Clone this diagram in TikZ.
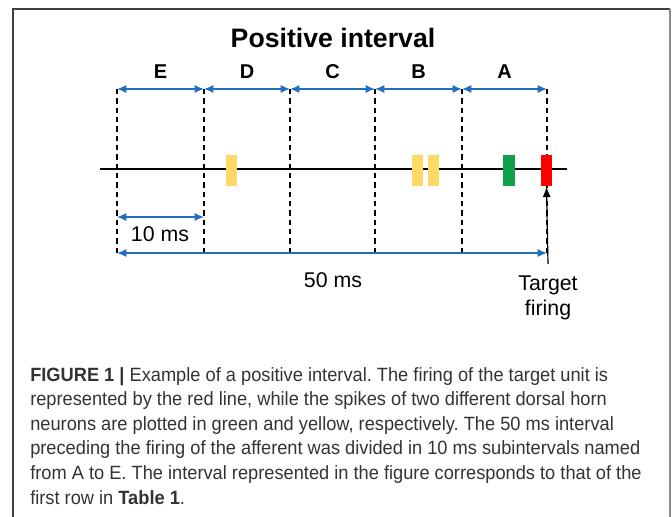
\documentclass[tikz,border=0pt]{standalone}
\usepackage{fontspec}
\setmainfont{Liberation Sans}
\newfontfamily\capfont[FakeStretch=0.95]{Liberation Sans}
\usetikzlibrary{arrows.meta,calc}
\definecolor{spanblue}{HTML}{1F6EC0}
\definecolor{spikeyellow}{HTML}{FFD966}
\definecolor{spikegreen}{HTML}{0FA04A}
\definecolor{spikered}{HTML}{FF0000}
\definecolor{captext}{HTML}{333333}
\frenchspacing
\begin{document}
\begin{tikzpicture}[x=0.75pt,y=-0.75pt,
    span/.style={draw=spanblue,line width=1.1pt,{Latex[length=7pt,width=6pt]}-{Latex[length=7pt,width=6pt]}},
    guide/.style={dashed,line width=0.8pt,dash pattern=on 4pt off 3pt},
    spike/.style={minimum width=8.3pt,minimum height=23.5pt,inner sep=0pt}]
    \useasboundingbox (0,0) rectangle (672,517);
    % frame
    \draw[black!75,line width=1.2pt] (13,517) -- (13,9) -- (670,9);
    \draw[black!45,line width=1.6pt] (670,9) -- (670,517);
    \node (title) at (333,38) {\fontsize{20}{24}\selectfont\bfseries Positive interval};
    % dashed boundaries
    \foreach \x/\n in {117/0,204/1,290/2,375/3,462/4,547/5} {
        \coordinate (t\n) at (\x,89);
        \coordinate (b\n) at (\x,254);
        \draw[guide] (t\n) -- (b\n);
    }
    \foreach \a/\b/\label in {0/1/E,1/2/D,2/3/C,3/4/B,4/5/A} {
        \draw[span] (t\a) -- (t\b);
        \node (sub\label) at ($(t\a)!0.5!(t\b)+(0,-17)$) {\fontsize{15}{18}\selectfont\bfseries\label};
    }
    % time axis
    \coordinate (axL) at (100,169);
    \coordinate (axR) at (567,169);
    \draw[line width=1.4pt] (axL) -- (axR);
    \foreach \x/\c/\n in {231.5/spikeyellow/1,417.5/spikeyellow/2,433.5/spikeyellow/3,509/spikegreen/4,546.5/spikered/5}
        \node[spike,fill=\c] (spike\n) at (\x,170.5) {};
    % target
    \coordinate (tgt) at (548,264);
    \draw[-{Latex[length=8pt,width=6pt]},line width=0.9pt] (tgt) -- (spike5.south);
    \node[align=center,font=\fontsize{16}{20}\selectfont] (target) at (548,298) {Target\\[-1pt]firing};
    % spans
    \coordinate (ten0) at (117,217);
    \coordinate (ten1) at (204,217);
    \draw[span] (ten0) -- (ten1);
    \node (tenms) at (160,234) {\fontsize{16}{20}\selectfont 10 ms};
    \coordinate (fifty0) at (117,253);
    \coordinate (fifty1) at (547,253);
    \draw[span] (fifty0) -- (fifty1);
    \node (fiftyms) at (333,280) {\fontsize{16}{20}\selectfont 50 ms};
    % caption
    \node[anchor=north west,align=left,text=captext,inner sep=0pt,font=\capfont\fontsize{14.4}{18.45}\selectfont] (caption) at (30,367)
        {\textbf{FIGURE 1 |} Example of a positive interval. The firing of the target unit is\\
         represented by the red line, while the spikes of two different dorsal horn\\
         neurons are plotted in green and yellow, respectively. The 50 ms interval\\
         preceding the firing of the afferent was divided in 10 ms subintervals named\\
         from A to E. The interval represented in the figure corresponds to that of the\\
         first row in \textbf{Table 1}.};
\end{tikzpicture}
\end{document}
